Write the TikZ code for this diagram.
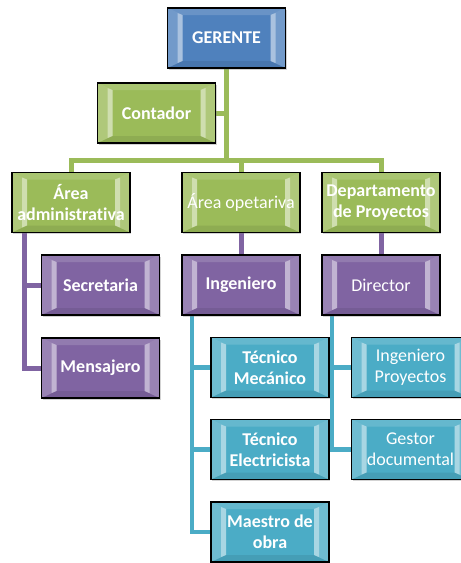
\documentclass[tikz,border=0pt]{standalone}
\usepackage{fontspec}
\setmainfont{Carlito}[Ligatures=NoCommon]
\usetikzlibrary{calc,shadows,backgrounds}

\definecolor{gBlue}{HTML}{4F81BD}
\definecolor{gGreen}{HTML}{9BBB59}
\definecolor{gPurple}{HTML}{8064A2}
\definecolor{gTeal}{HTML}{4BACC6}

\tikzset{
  bevel/.style={path picture={
    \coordinate (bnw) at (path picture bounding box.north west);
    \coordinate (bne) at (path picture bounding box.north east);
    \coordinate (bsw) at (path picture bounding box.south west);
    \coordinate (bse) at (path picture bounding box.south east);
    % side bevels
    \fill[white,opacity=.2] (bnw) -- ($(bnw)+(15,7)$) -- ($(bsw)+(15,-7)$) -- (bsw) -- cycle;
    \fill[white,opacity=.2] (bne) -- ($(bne)+(-15,7)$) -- ($(bse)+(-15,-7)$) -- (bse) -- cycle;
    \fill[white,opacity=.4] ($(bnw)+(10,5)$) -- ($(bnw)+(15,7)$) -- ($(bsw)+(15,-7)$) -- ($(bsw)+(10,-5)$) -- cycle;
    \fill[white,opacity=.4] ($(bne)+(-10,5)$) -- ($(bne)+(-15,7)$) -- ($(bse)+(-15,-7)$) -- ($(bse)+(-10,-5)$) -- cycle;
    % top and bottom bevels
    \fill[white,opacity=.15] (bnw) -- (bne) -- ($(bne)+(-15,7)$) -- ($(bnw)+(15,7)$) -- cycle;
    \fill[black,opacity=.08] (bsw) -- (bse) -- ($(bse)+(-15,-7)$) -- ($(bsw)+(15,-7)$) -- cycle;
  }},
  orgbox/.style={rectangle, draw=black, line width=1.6pt, fill=#1,
    minimum width=118pt, minimum height=60pt, inner sep=0pt, align=center,
    text=white, font=\bfseries\fontsize{18}{21}\selectfont,
    drop shadow={shadow xshift=1.3pt, shadow yshift=-1.6pt, opacity=.35},
    bevel},
  plain/.style={font=\fontsize{18}{21}\selectfont},
  lnGreen/.style={draw=gGreen, line width=5pt},
  lnPurple/.style={draw=gPurple, line width=5pt},
  lnTeal/.style={draw=gTeal, line width=4.5pt},
}

\begin{document}
\begin{tikzpicture}[x=1pt,y=-1pt]
\useasboundingbox (0,0) rectangle (461,563);
\clip (0,0) rectangle (461,563);

% top levels
\node[orgbox=gBlue]   (ger) at (226.5,38)  {GERENTE};
\node[orgbox=gGreen]  (con) at (156.5,113) {Contador};
\node[orgbox=gGreen]  (adm) at (71,202.5)  {Área\\administrativa};
\node[orgbox=gGreen, plain] (ope) at (241,202.5) {Área opetariva};
\node[orgbox=gGreen]  (dep) at (381,202.5) {Departamento\\de Proyectos};

% second level
\node[orgbox=gPurple] (sec) at (100.5,285) {Secretaria};
\node[orgbox=gPurple] (men) at (100.5,368) {Mensajero};
\node[orgbox=gPurple] (ing) at (241,285)   {Ingeniero};
\node[orgbox=gPurple, plain] (dir) at (381,285) {Director};

% third level
\node[orgbox=gTeal] (tme) at (270,367.5) {Técnico\\Mecánico};
\node[orgbox=gTeal] (tel) at (270,449.5) {Técnico\\Electricista};
\node[orgbox=gTeal] (mae) at (270,532)   {Maestro de\\obra};
\node[orgbox=gTeal, plain] (ipr) at (410.5,367.5) {Ingeniero\\Proyectos};
\node[orgbox=gTeal, plain] (ges) at (410.5,449.5) {Gestor\\documental};

\begin{scope}[on background layer]
  \coordinate (bar) at (226.5,160);
  \path[lnGreen] (ger.south) -- (bar);
  \path[lnGreen] (con.east) -- (con.east -| ger.south);
  \path[lnGreen] (bar) -| (adm.north);
  \path[lnGreen] (bar) -| (ope.north);
  \path[lnGreen] (bar) -| (dep.north);

  \coordinate (admtrunk) at ($(adm.south west)+(13,0)$);
  \path[lnPurple] (admtrunk) |- (sec.west);
  \path[lnPurple] (admtrunk) |- (men.west);
  \path[lnPurple] (ope.south) -- (ing.north);
  \path[lnPurple] (dep.south) -- (dir.north);

  \coordinate (ingtrunk) at ($(ing.south west)+(11,0)$);
  \path[lnTeal] (ingtrunk) |- (tme.west);
  \path[lnTeal] (ingtrunk) |- (tel.west);
  \path[lnTeal] (ingtrunk) |- (mae.west);
  \coordinate (dirtrunk) at ($(dir.south west)+(11,0)$);
  \path[lnTeal] (dirtrunk) |- (ipr.west);
  \path[lnTeal] (dirtrunk) |- (ges.west);
\end{scope}
\end{tikzpicture}
\end{document}
